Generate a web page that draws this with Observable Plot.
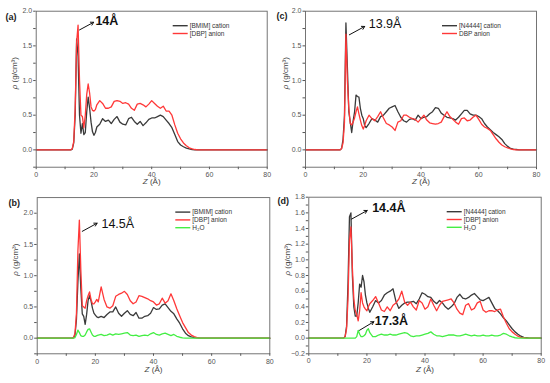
<!DOCTYPE html>
<html><head><meta charset="utf-8">
<script src="https://cdn.jsdelivr.net/npm/d3@7"></script>
<script src="https://cdn.jsdelivr.net/npm/@observablehq/plot@0.6"></script>
<style>
body{margin:0;background:#fff;}
#wrap{position:relative;width:550px;height:383px;overflow:hidden;background:#fff;}
#wrap svg{position:absolute;}
</style></head><body><div id="wrap"></div>
<script>
// Z grid (Å) shared by all series
const zGrid = [0, 12, 12.5, 13, 13.5, 14, 14.5, 15, 15.5, 16, 16.5, 17, 17.5, 18, 18.5, 19, 19.5, 20, 20.5, 21,
  22, 23, 24, 25, 26, 27, 28, 29, 30, 31,
  32, 33, 34, 35, 36, 37, 38, 39, 40, 41,
  42, 43, 44, 45, 46, 47, 48, 49, 50, 51,
  52, 53, 54, 55, 56, 57, 58, 59, 60, 61,
  62, 63, 64, 65, 66, 67, 68, 69, 70, 71,
  72, 73, 74, 75, 76, 80];

// (a) [BMIM][DBP]
const aCation = [0, 0, 0.01, 0.1, 0.5, 1.6, 1.35, 0.5, 0.24, 0.38, 0.22, 0.25, 0.55, 0.76, 0.6, 0.4, 0.26, 0.21, 0.25, 0.33,
  0.37, 0.45, 0.41, 0.43, 0.38, 0.44, 0.48, 0.4, 0.37, 0.36,
  0.45, 0.47, 0.41, 0.37, 0.41, 0.35, 0.39, 0.44, 0.46, 0.46,
  0.48, 0.5, 0.48, 0.43, 0.38, 0.32, 0.22, 0.12, 0.07, 0.045,
  0.025, 0.015, 0.005, 0, 0, 0, 0, 0, 0, 0,
  0, 0, 0, 0, 0, 0, 0, 0, 0, 0,
  0, 0, 0, 0, 0, 0];
const aAnion = [0, 0, 0.02, 0.12, 0.6, 1.55, 1.8, 1.0, 0.5, 0.48, 0.32, 0.5, 0.8, 0.95, 0.82, 0.62, 0.57, 0.56, 0.58, 0.65,
  0.71, 0.67, 0.6, 0.6, 0.62, 0.7, 0.71, 0.7, 0.67, 0.68,
  0.66, 0.6, 0.57, 0.66, 0.67, 0.65, 0.62, 0.66, 0.71, 0.67,
  0.63, 0.6, 0.63, 0.56, 0.56, 0.5, 0.36, 0.24, 0.16, 0.1,
  0.06, 0.03, 0.015, 0.005, 0, 0, 0, 0, 0, 0,
  0, 0, 0, 0, 0, 0, 0, 0, 0, 0,
  0, 0, 0, 0, 0, 0];

// (b) [BMIM][DBP] + H2O
const bCation = [0, 0, 0.01, 0.05, 0.3, 0.9, 1.35, 0.8, 0.39, 0.35, 0.22, 0.38, 0.6, 0.68, 0.6, 0.48, 0.4, 0.37, 0.34, 0.33,
  0.35, 0.33, 0.38, 0.42, 0.42, 0.5, 0.4, 0.35, 0.4, 0.44,
  0.38, 0.36, 0.41, 0.32, 0.32, 0.35, 0.36, 0.4, 0.49, 0.46,
  0.47, 0.53, 0.55, 0.49, 0.43, 0.39, 0.31, 0.24, 0.15, 0.08,
  0.04, 0.02, 0.01, 0.005, 0, 0, 0, 0, 0, 0,
  0, 0, 0, 0, 0, 0, 0, 0, 0, 0,
  0, 0, 0, 0, 0, 0];
const bAnion = [0, 0, 0.01, 0.08, 0.4, 1.4, 1.89, 1.1, 0.52, 0.5, 0.48, 0.6, 0.68, 0.74, 0.62, 0.55, 0.55, 0.58, 0.62, 0.58,
  0.82, 0.62, 0.5, 0.48, 0.52, 0.67, 0.7, 0.72, 0.75, 0.7,
  0.6, 0.55, 0.58, 0.68, 0.67, 0.65, 0.63, 0.6, 0.58, 0.53,
  0.55, 0.64, 0.56, 0.6, 0.71, 0.6, 0.47, 0.36, 0.25, 0.17,
  0.09, 0.05, 0.025, 0.01, 0, 0, 0, 0, 0, 0,
  0, 0, 0, 0, 0, 0, 0, 0, 0, 0,
  0, 0, 0, 0, 0, 0];
const bWater = [0, 0, 0, 0.01, 0.06, 0.13, 0.09, 0.04, 0.03, 0.03, 0.05, 0.1, 0.14, 0.15, 0.1, 0.05, 0.03, 0.03, 0.04, 0.05,
  0.06, 0.04, 0.05, 0.07, 0.05, 0.07, 0.06, 0.07, 0.08, 0.09,
  0.05, 0.04, 0.05, 0.03, 0.04, 0.05, 0.04, 0.07, 0.09, 0.06,
  0.05, 0.07, 0.08, 0.06, 0.04, 0.06, 0.03, 0.015, 0.005, 0,
  0, 0, 0, 0, 0, 0, 0, 0, 0, 0,
  0, 0, 0, 0, 0, 0, 0, 0, 0, 0,
  0, 0, 0, 0, 0, 0];

// (c) [N4444][DBP]
const cCation = [0, 0, 0.02, 0.15, 0.5, 1.83, 1.2, 0.55, 0.4, 0.25, 0.42, 0.55, 0.79, 0.77, 0.76, 0.6, 0.5, 0.45, 0.35, 0.32,
  0.38, 0.45, 0.43, 0.4, 0.48, 0.5, 0.55, 0.6, 0.62, 0.64,
  0.55, 0.47, 0.42, 0.4, 0.44, 0.45, 0.43, 0.5, 0.45, 0.47,
  0.48, 0.52, 0.55, 0.61, 0.6, 0.53, 0.5, 0.47, 0.46, 0.45,
  0.43, 0.47, 0.52, 0.57, 0.57, 0.52, 0.5, 0.5, 0.48, 0.45,
  0.38, 0.33, 0.29, 0.25, 0.22, 0.19, 0.15, 0.09, 0.05, 0.02,
  0.01, 0.005, 0, 0, 0, 0];
const cAnion = [0, 0, 0.02, 0.1, 0.4, 1.67, 1.0, 0.6, 0.38, 0.36, 0.4, 0.46, 0.55, 0.62, 0.52, 0.43, 0.35, 0.3, 0.35, 0.42,
  0.5, 0.45, 0.42, 0.48, 0.55, 0.46, 0.38, 0.36, 0.33, 0.28,
  0.4, 0.42, 0.5, 0.5, 0.47, 0.45, 0.44, 0.4, 0.45, 0.5,
  0.43, 0.39, 0.38, 0.37, 0.38, 0.4, 0.48, 0.55, 0.48, 0.44,
  0.4, 0.37, 0.45, 0.46, 0.42, 0.43, 0.47, 0.5, 0.44, 0.37,
  0.33, 0.31, 0.28, 0.22, 0.16, 0.11, 0.07, 0.045, 0.03, 0.015,
  0.005, 0, 0, 0, 0, 0];

// (d) [N4444][DBP] + H2O
const dCation = [0, 0, 0.02, 0.15, 0.7, 1.55, 1.6, 0.8, 0.4, 0.28, 0.28, 0.45, 0.69, 0.65, 0.8, 0.72, 0.55, 0.45, 0.38, 0.33,
  0.4, 0.48, 0.45, 0.48, 0.55, 0.58, 0.6, 0.63, 0.47, 0.38,
  0.42, 0.45, 0.46, 0.46, 0.47, 0.44, 0.5, 0.58, 0.56, 0.53,
  0.52, 0.47, 0.44, 0.48, 0.45, 0.4, 0.37, 0.4, 0.44, 0.52,
  0.56, 0.51, 0.5, 0.52, 0.55, 0.57, 0.53, 0.49, 0.48, 0.5,
  0.52, 0.45, 0.38, 0.35, 0.31, 0.26, 0.22, 0.17, 0.12, 0.08,
  0.05, 0.025, 0.01, 0.005, 0, 0];
const dAnion = [0, 0, 0.02, 0.12, 0.5, 1.25, 1.42, 0.9, 0.5, 0.35, 0.3, 0.22, 0.35, 0.58, 0.45, 0.4, 0.37, 0.35, 0.4, 0.44,
  0.48, 0.53, 0.45, 0.36, 0.34, 0.4, 0.35, 0.42, 0.45, 0.5,
  0.6, 0.46, 0.42, 0.46, 0.4, 0.36, 0.48, 0.45, 0.37, 0.4,
  0.5, 0.42, 0.35, 0.42, 0.47, 0.48, 0.49, 0.5, 0.45, 0.37,
  0.32, 0.3, 0.42, 0.44, 0.36, 0.38, 0.45, 0.47, 0.36, 0.33,
  0.35, 0.35, 0.34, 0.36, 0.37, 0.27, 0.19, 0.12, 0.08, 0.05,
  0.025, 0.01, 0.005, 0, 0, 0];
const dWater = [0, 0, 0, 0, 0, 0, 0, 0, 0, 0, 0.02, 0.1, 0.05, 0.02, 0.02, 0.03, 0.05, 0.1, 0.12, 0.07,
  0.02, 0.02, 0.04, 0.05, 0.04, 0.04, 0.05, 0.04, 0.04, 0.05,
  0.06, 0.07, 0.06, 0.03, 0.02, 0.03, 0.03, 0.04, 0.05, 0.06,
  0.08, 0.05, 0.03, 0.03, 0.02, 0.03, 0.04, 0.04, 0.04, 0.03,
  0.03, 0.04, 0.05, 0.04, 0.03, 0.04, 0.03, 0.03, 0.04, 0.03,
  0.03, 0.04, 0.03, 0.03, 0.04, 0.06, 0.05, 0.03, 0.015, 0.005,
  0, 0, 0, 0, 0, 0];

// ticks
const xTicks = [0, 10, 20, 30, 40, 50, 60, 70, 80];
const xTickLabels = [0, 20, 40, 60, 80];
const yTicksA = [-0.25, 0, 0.25, 0.5, 0.75, 1, 1.25, 1.5, 1.75, 2];
const yTickLabelsA = [0, 0.5, 1, 1.5, 2];
const yTicksD = [-0.2, -0.1, 0, 0.1, 0.2, 0.3, 0.4, 0.5, 0.6, 0.7, 0.8, 0.9, 1, 1.1, 1.2, 1.3, 1.4, 1.5, 1.6, 1.7, 1.8];
const yTickLabelsD = [-0.2, 0, 0.2, 0.4, 0.6, 0.8, 1, 1.2, 1.4, 1.6, 1.8];

// peak annotations (data coordinates)
const annA = [{x1: 15.0, y1: 1.73, x2: 19.9, y2: 1.84, lx: 20.5, ly: 1.86, text: "14Å"}];
const annB = [{x1: 15.5, y1: 1.71, x2: 20.6, y2: 1.84, lx: 22.1, ly: 1.835, text: "14.5Å"}];
const annC = [{x1: 15.2, y1: 1.66, x2: 20.5, y2: 1.78, lx: 21.9, ly: 1.81, text: "13.9Å"}];
const annD = [{x1: 14.7, y1: 1.52, x2: 20.1, y2: 1.63, lx: 21.8, ly: 1.66, text: "14.4Å"},
              {x1: 17.45, y1: 0.10, x2: 22.4, y2: 0.21, lx: 22.7, ly: 0.22, text: "17.3Å"}];

const colCation = "#3a3a3a", colAnion = "#ff3838", colWater = "#44ee44";

const panels = [
  {tag: "(a)", left: 0, top: 0, width: 275, height: 190, margin: [10.7, 8.3, 23.3, 35.7],
   yDomain: [-0.25, 2.0], yTicks: yTicksA, yLabels: yTickLabelsA,
   series: [["[BMIM] cation", aCation, colCation], ["[DBP] anion", aAnion, colAnion]],
   ann: annA, annWeight: "bold", tagDx: -30.7, tagDy: 2.3, ylabDx: -22.2, xlabDy: 16.6, xPad: 2.5},
  {tag: "(c)", left: 275, top: 0, width: 275, height: 190, margin: [10.7, 14, 23.3, 30],
   yDomain: [-0.25, 2.0], yTicks: yTicksA, yLabels: yTickLabelsA,
   series: [["[N4444] cation", cCation, colCation], ["DBP anion", cAnion, colAnion]],
   ann: annC, annWeight: "normal", tagDx: -29, tagDy: 1.8, ylabDx: -20, xlabDy: 16.6, xPad: 2.5},
  {tag: "(b)", left: 0, top: 190, width: 275, height: 193, margin: [7.1, 5.7, 29.7, 36.7],
   yDomain: [-0.25, 2.25], yTicks: yTicksA, yLabels: yTickLabelsA,
   series: [["[BMIM] cation", bCation, colCation], ["[DBP] anion", bAnion, colAnion], ["H₂O", bWater, colWater]],
   ann: annB, annWeight: "normal", tagDx: -28.7, tagDy: 1.9, ylabDx: -21.7, xlabDy: 18.4, xPad: 2.5},
  {tag: "(d)", left: 275, top: 190, width: 275, height: 193, margin: [6.7, 9.3, 29.7, 33.3],
   yDomain: [-0.2, 1.8], yTicks: yTicksD, yLabels: yTickLabelsD,
   series: [["[N4444] cation", dCation, colCation], ["[DBP] anion", dAnion, colAnion], ["H₂O", dWater, colWater]],
   ann: annD, annWeight: "bold", tagDx: -31.3, tagDy: 0.8, ylabDx: -21.6, xlabDy: 18, xPad: 2}
];

const fmt1 = d3.format(".1f");
const near = (arr, d) => arr.some(v => Math.abs(v - d) < 1e-9);

function legendMark(series) {
  return (index, scales, values, dims) => {
    const g = d3.create("svg:g");
    const x0 = dims.width - dims.marginRight - 94;
    series.forEach(([name, , color], i) => {
      const y = dims.marginTop + 15 + i * 7.8;
      g.append("line").attr("x1", x0).attr("x2", x0 + 15).attr("y1", y).attr("y2", y)
        .attr("stroke", color).attr("stroke-width", 1.4);
      g.append("text").attr("x", x0 + 17).attr("y", y).attr("dy", "0.35em")
        .attr("text-anchor", "start")
        .attr("font-size", 6.5).attr("fill", "#333").text(name);
    });
    return g.node();
  };
}

const wrap = document.getElementById("wrap");
for (const p of panels) {
  const [mt, mr, mb, ml] = p.margin;
  const lineMarks = p.series.map(([name, vals, color]) =>
    Plot.line(zGrid.map((z, i) => ({z, v: vals[i]})), {x: "z", y: "v", stroke: color, strokeWidth: 1.3}));
  const svg = Plot.plot({
    width: p.width, height: p.height,
    marginTop: mt, marginRight: mr, marginBottom: mb, marginLeft: ml,
    style: {fontFamily: "'Liberation Sans', Arial, sans-serif", fontSize: "7px", color: "#444", background: "transparent", overflow: "visible"},
    x: {domain: [0, 80]},
    y: {domain: p.yDomain},
    marks: [
      Plot.axisX({ticks: xTicks, tickSize: 2.5, tickPadding: p.xPad, label: null, color: "#555",
        tickFormat: d => near(xTickLabels, d) ? String(d) : ""}),
      Plot.axisY({ticks: p.yTicks, tickSize: 2.5, tickPadding: 1.5, label: null, color: "#555",
        tickFormat: d => near(p.yLabels, d) ? fmt1(d) : ""}),
      ...lineMarks,
      Plot.frame({stroke: "#666", strokeWidth: 0.9}),
      Plot.arrow(p.ann, {x1: "x1", y1: "y1", x2: "x2", y2: "y2", stroke: "#111", strokeWidth: 1, headLength: 5}),
      Plot.text(p.ann, {x: "lx", y: "ly", text: "text", textAnchor: "start", fontSize: 12.5, fontWeight: p.annWeight, fill: "#111"}),
      Plot.text([p.tag], {frameAnchor: "top-left", textAnchor: "start", dx: p.tagDx, dy: p.tagDy, fontSize: 9, fontWeight: "bold", fill: "#222"}),
      Plot.text(["Z (Å)"], {frameAnchor: "bottom", dy: p.xlabDy, fontSize: 8, fill: "#444"}),
      Plot.text(["ρ (g/cm³)"], {frameAnchor: "left", dx: p.ylabDx, rotate: -90, fontSize: 8, fill: "#444"}),
      legendMark(p.series)
    ]
  });
  svg.style.left = p.left + "px";
  svg.style.top = p.top + "px";
  // italic variable symbols
  d3.select(svg).selectAll("text").each(function () {
    const t = this.textContent;
    if (t === "Z (Å)") {
      const s = d3.select(this).select("tspan").empty() ? d3.select(this) : d3.select(this).select("tspan");
      s.text(null);
      s.append("tspan").attr("font-style", "italic").text("Z");
      s.append("tspan").text(" (Å)");
    } else if (t === "ρ (g/cm³)") {
      const s = d3.select(this).select("tspan").empty() ? d3.select(this) : d3.select(this).select("tspan");
      s.text(null);
      s.append("tspan").attr("font-style", "italic").text("ρ");
      s.append("tspan").text(" (g/cm³)");
    }
  });
  wrap.appendChild(svg);
}
</script></body></html>
